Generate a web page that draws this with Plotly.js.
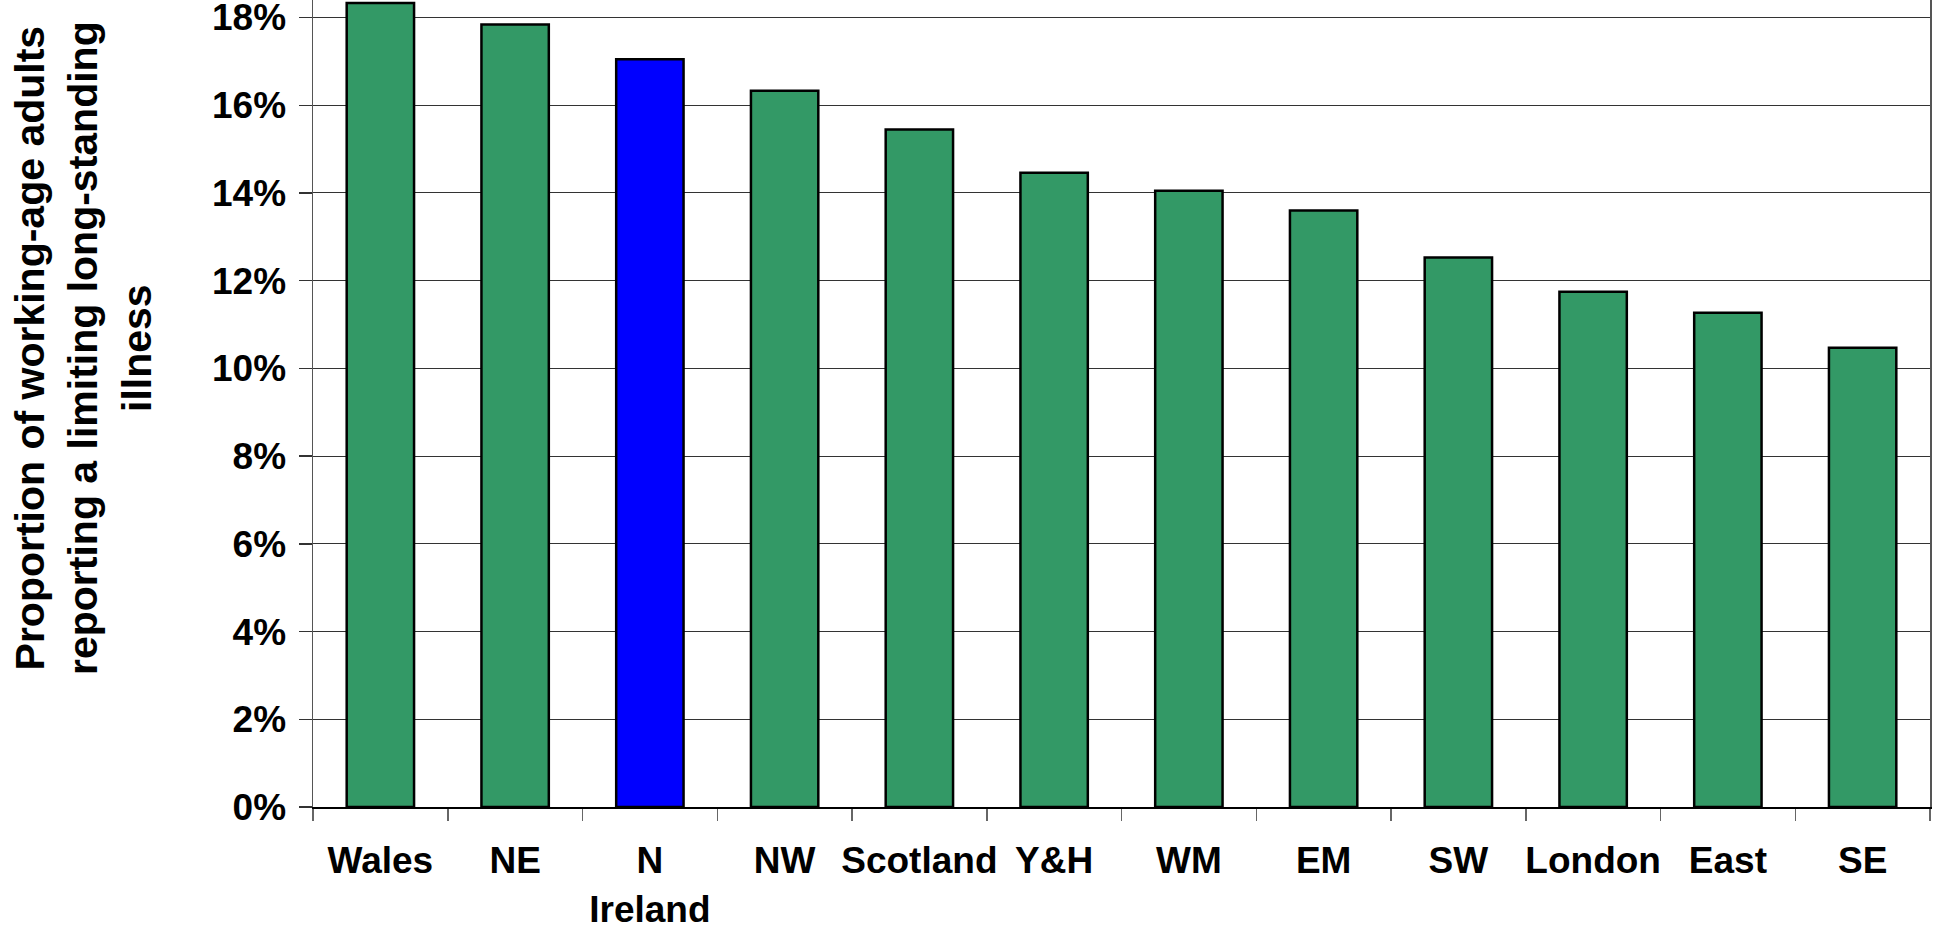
<!DOCTYPE html>
<html>
<head>
<meta charset="utf-8">
<script src="https://cdn.plot.ly/plotly-3.0.1.min.js"></script>
<style>
html,body{margin:0;padding:0;background:#fff;}
#chart{width:1935px;height:925px;}
</style>
</head>
<body>
<div id="chart"></div>
<script>
const categories = ["Wales","NE","N<br>Ireland","NW","Scotland","Y&H","WM","EM","SW","London","East","SE"];
const values = [0.1833,0.1784,0.1705,0.1633,0.1545,0.1446,0.1405,0.1360,0.1253,0.1175,0.1127,0.1047];
const barColors = ["#339966","#339966","#0000FF","#339966","#339966","#339966","#339966","#339966","#339966","#339966","#339966","#339966"];
const yTicks = [0,0.02,0.04,0.06,0.08,0.10,0.12,0.14,0.16,0.18];
const yTitle = "Proportion of working-age adults<br>reporting a limiting long-standing<br>illness";

const FONT = "Liberation Sans, Arial, sans-serif";

const trace = {
  type: "bar",
  x: categories,
  y: values,
  marker: {color: barColors, line: {color: "#000", width: 2.5}},
  hoverinfo: "none"
};

const layout = {
  width: 1935, height: 925,
  margin: {l: 313, r: 5, t: 0, b: 118, pad: 0},
  paper_bgcolor: "#fff", plot_bgcolor: "#fff",
  showlegend: false,
  bargap: 0.5,
  font: {family: FONT, color: "#000"},
  xaxis: {
    type: "category",
    tickson: "boundaries",
    tickangle: 0,
    ticks: "outside", ticklen: 12, tickwidth: 1.5, tickcolor: "#666",
    showline: true, linecolor: "#000", linewidth: 2,
    showgrid: false,
    tickfont: {family: FONT, size: 37, weight: "bold", color: "#000"},
    ticklabelstandoff: 20,
    ticklabeloverflow: "allow",
    fixedrange: true
  },
  yaxis: {
    range: [0, 0.184],
    tickvals: yTicks,
    tickformat: ".0%",
    ticks: "outside", ticklen: 13, tickwidth: 1.5, tickcolor: "#333",
    showline: true, linecolor: "#555", linewidth: 1.5, mirror: true,
    showgrid: true, gridcolor: "#333", gridwidth: 1,
    zeroline: false,
    tickfont: {family: FONT, size: 37, weight: "bold", color: "#000"},
    ticklabelstandoff: 5,
    ticklabeloverflow: "allow",
    fixedrange: true
  },
  annotations: [{
    text: yTitle,
    xref: "paper", yref: "paper",
    x: 0, y: (807 - 348) / 807,
    xanchor: "center", yanchor: "middle",
    xshift: -229,
    textangle: -90,
    showarrow: false,
    font: {family: FONT, size: 41, weight: "bold", color: "#000"}
  }]
};

Plotly.newPlot("chart", [trace], layout, {displayModeBar: false, staticPlot: true});
</script>
</body>
</html>
